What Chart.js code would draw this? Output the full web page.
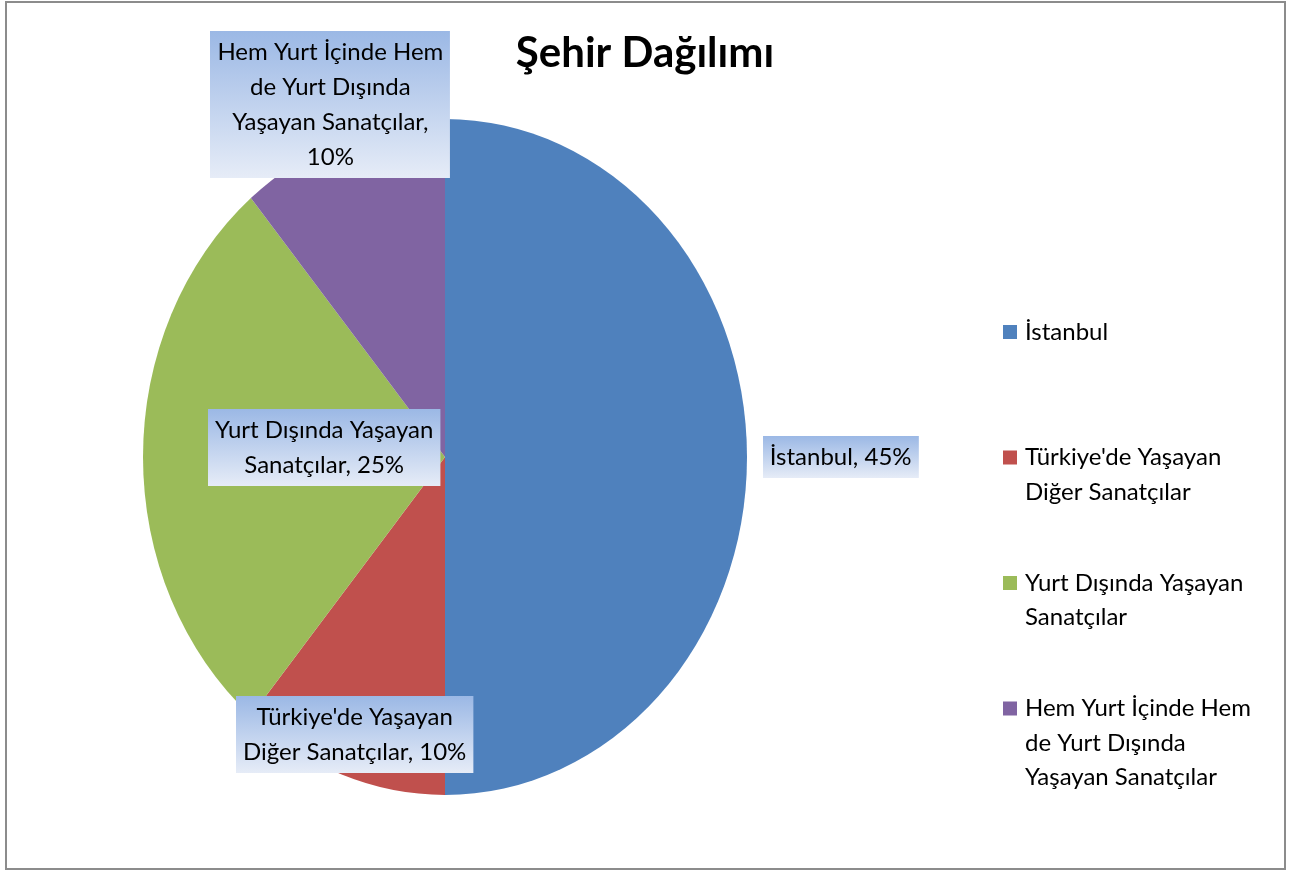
<!DOCTYPE html>
<html>
<head>
<meta charset="utf-8">
<script src="https://cdn.jsdelivr.net/npm/chart.js@4/dist/chart.umd.min.js"></script>
<style>
    html, body { margin: 0; padding: 0; background: #fff; }
    canvas { display: block; }
</style>
</head>
<body>
<canvas id="sehir-canvas" width="1299" height="870"></canvas>
<script>
// ========== Data
const chartTitle = 'Şehir Dağılımı';
const categories = [
    'İstanbul',
    "Türkiye'de Yaşayan Diğer Sanatçılar",
    'Yurt Dışında Yaşayan Sanatçılar',
    'Hem Yurt İçinde Hem de Yurt Dışında Yaşayan Sanatçılar'
];
const values = [45, 10, 25, 10];

// ========== Colors
let istanbulColor = '#4F81BD';
let turkiyeColor = '#C0504D';
let yurtdisiColor = '#9BBB59';
let ikisiColor = '#8064A2';
let sliceColors = [istanbulColor, turkiyeColor, yurtdisiColor, ikisiColor];

let textFont = '24px Lato';
let titleFont = 'bold 42px Lato';
let lineHeight = 35;

// label distance from pie centre, as a fraction of the radius (Excel "best fit")
let labelRadius = [1.31, 0.875, 0.40, 1.11];
let labelNudgeY = [0, 0, -10, 0];
let ySquash = 338 / 302; // Excel draws the pie as an ellipse

function wrapText(ctx, text, maxWidth) {
    let words = text.split(' ');
    let lines = [];
    let line = '';
    words.forEach(w => {
        let test = line ? line + ' ' + w : w;
        if (line && ctx.measureText(test).width > maxWidth) {
            lines.push(line);
            line = w;
        } else {
            line = test;
        }
    });
    if (line) lines.push(line);
    return lines;
}

// @ ========== Ellipse + labels + legend
const excelPie = {
    id: 'excelPie',
    beforeDatasetsDraw(chart) {
        let meta = chart.getDatasetMeta(0);
        let cx = meta.data[0].x, cy = meta.data[0].y;
        let ctx = chart.ctx;
        ctx.save();
        ctx.translate(cx, cy);
        ctx.scale(1, ySquash);
        ctx.translate(-cx, -cy);
    },
    afterDatasetsDraw(chart) {
        chart.ctx.restore();
    },
    afterDraw(chart) {
        let ctx = chart.ctx;
        let meta = chart.getDatasetMeta(0);

        // data labels
        ctx.save();
        ctx.font = textFont;
        ctx.textAlign = 'center';
        ctx.textBaseline = 'middle';
        meta.data.forEach((arc, i) => {
            let p = arc.getProps(['x', 'y', 'startAngle', 'endAngle', 'outerRadius'], true);
            let mid = (p.startAngle + p.endAngle) / 2;
            let lx = p.x + Math.cos(mid) * p.outerRadius * labelRadius[i];
            let ly = p.y + Math.sin(mid) * p.outerRadius * ySquash * labelRadius[i] + labelNudgeY[i];
            let lines = wrapText(ctx, categories[i] + ', ' + values[i] + '%', 240);
            let w = Math.max(...lines.map(l => ctx.measureText(l).width)) + 14;
            let h = lines.length * lineHeight + 7;
            let bx = Math.round(lx - w / 2), by = Math.round(ly - h / 2);
            let grad = ctx.createLinearGradient(0, by, 0, by + h);
            grad.addColorStop(0, '#9bb8e5');
            grad.addColorStop(1, '#e6ecf7');
            ctx.fillStyle = grad;
            ctx.fillRect(bx, by, w, h);
            ctx.fillStyle = '#000';
            lines.forEach((l, j) => {
                ctx.fillText(l, lx, by + 3.5 + lineHeight * (j + 0.5));
            });
        });

        // legend
        ctx.textAlign = 'left';
        categories.forEach((c, i) => {
            let y0 = 332 + i * 125.5;
            ctx.fillStyle = sliceColors[i];
            ctx.fillRect(1003, y0 - 7, 14, 14);
            ctx.fillStyle = '#000';
            wrapText(ctx, c, 240).forEach((l, j) => {
                ctx.fillText(l, 1025, y0 + j * 34.5);
            });
        });

        // title
        ctx.font = titleFont;
        ctx.textAlign = 'center';
        ctx.fillText(chartTitle, 645, 53);

        // chart border
        ctx.strokeStyle = '#8c8c8c';
        ctx.lineWidth = 2;
        ctx.strokeRect(6, 2, 1279, 867);
        ctx.restore();
    }
};

function renderSehirChart() {
    let sehirCanvas = document.getElementById('sehir-canvas');
    let pieChart = new Chart(sehirCanvas, {
        type: 'pie',
        data: {
            labels: categories,
            datasets: [{
                data: values,
                backgroundColor: sliceColors,
                borderWidth: 0
            }]
        },
        options: {
            responsive: false,
            animation: false,
            layout: {
                padding: { left: 143, right: 552, top: 155, bottom: 111 }
            },
            plugins: {
                legend: { display: false },
                tooltip: { enabled: false }
            }
        },
        plugins: [excelPie]
    });
    return pieChart;
}

renderSehirChart();
</script>
</body>
</html>
